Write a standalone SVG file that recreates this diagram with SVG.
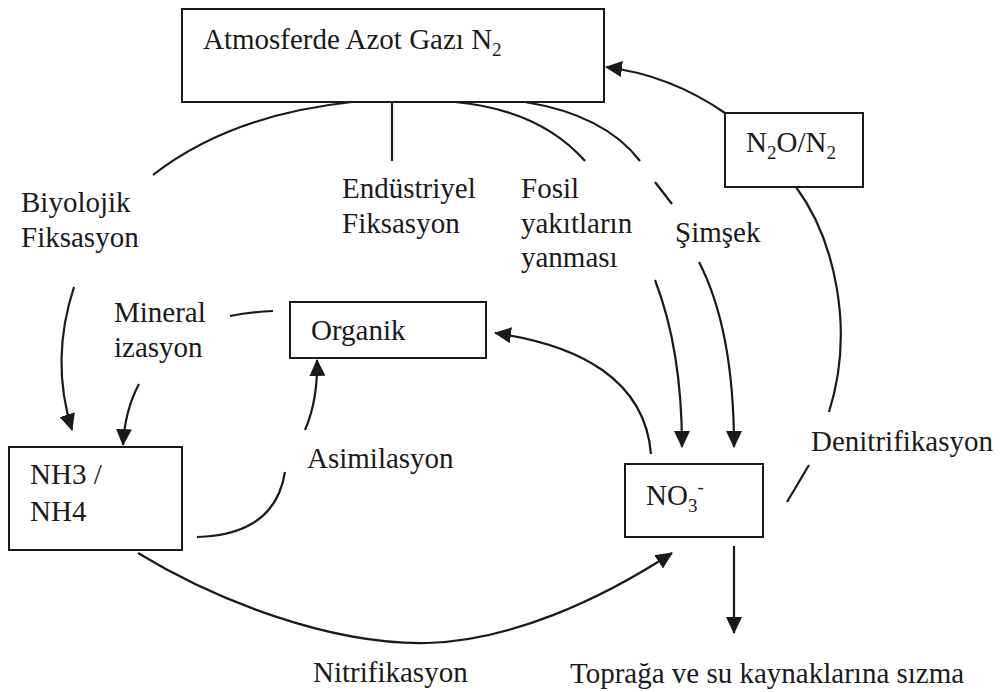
<svg xmlns="http://www.w3.org/2000/svg" width="1000" height="692" viewBox="0 0 1000 692">
<style>
.box{fill:#fff;stroke:#1a1a1a;stroke-width:2}
.t{font-family:"Liberation Serif","Times New Roman",serif;font-size:29px;fill:#1a1a1a}
.sub{font-size:19px}
.c{fill:none;stroke:#1a1a1a;stroke-width:2.2}
</style>
<defs>
<marker id="ah" viewBox="0 0 17 16" refX="16" refY="8" markerWidth="17" markerHeight="16" markerUnits="userSpaceOnUse" orient="auto">
<path d="M0,0 L17,8 L0,16 z" fill="#1a1a1a"/>
</marker>
</defs>
<rect width="1000" height="692" fill="#fff"/>
<g id="connectors">
<path class="c" d="M352,102 Q230,115 153,175"/>
<path class="c" d="M392,103 L392,161"/>
<path class="c" d="M455,102 Q540,110 585,161"/>
<path class="c" d="M525,102 Q605,115 640,161"/>
<path class="c" d="M655,182 L672,204"/>
<path class="c" d="M725,113 Q670,75 606,67" marker-end="url(#ah)"/>
<path class="c" d="M796,187 C835,240 855,330 829,412"/>
<path class="c" d="M787,502 L809,465"/>
<path class="c" d="M655,280 Q682,350 682,447" marker-end="url(#ah)"/>
<path class="c" d="M699,262 Q734,330 734,447" marker-end="url(#ah)"/>
<path class="c" d="M651,454 C645,380 580,345 495,333" marker-end="url(#ah)"/>
<path class="c" d="M734,546 L734,633" marker-end="url(#ah)"/>
<path class="c" d="M138,553 C215,600 330,645 427,643 C510,641 600,600 672,553" marker-end="url(#ah)"/>
<path class="c" d="M74,287 Q50,360 72,430" marker-end="url(#ah)"/>
<path class="c" d="M139,384 Q125,410 123,445" marker-end="url(#ah)"/>
<path class="c" d="M305,430 Q318,400 317,360" marker-end="url(#ah)"/>
<path class="c" d="M273,311 Q250,312 230,316"/>
<path class="c" d="M197,537 Q275,535 285,472"/>
</g>
<g id="atmosfer">
<rect class="box" x="182" y="9" width="422" height="93"/>
<text class="t" x="203" y="49">Atmosferde Azot Gazı N<tspan class="sub" dy="7">2</tspan></text>
</g>
<g id="n2o">
<rect class="box" x="725" y="113" width="138" height="74"/>
<text class="t" x="746" y="152">N<tspan class="sub" dy="7">2</tspan><tspan dy="-7">O/N</tspan><tspan class="sub" dy="7">2</tspan></text>
</g>
<g id="organik">
<rect class="box" x="290" y="302" width="196" height="56"/>
<text class="t" x="311" y="340">Organik</text>
</g>
<g id="nh3">
<rect class="box" x="9" y="447" width="173" height="103"/>
<text class="t" x="30" y="484">NH3 /</text>
<text class="t" x="30" y="521">NH4</text>
</g>
<g id="no3">
<rect class="box" x="625" y="464" width="138" height="73"/>
<text class="t" x="646" y="505">NO<tspan class="sub" dy="7">3</tspan><tspan class="sub" dy="-19">-</tspan></text>
</g>
<g id="labels">
<text class="t" x="21" y="212">Biyolojik</text>
<text class="t" x="21" y="247">Fiksasyon</text>
<text class="t" x="342" y="198">Endüstriyel</text>
<text class="t" x="342" y="233">Fiksasyon</text>
<text class="t" x="521" y="198">Fosil</text>
<text class="t" x="521" y="233">yakıtların</text>
<text class="t" x="521" y="267">yanması</text>
<text class="t" x="675" y="242">Şimşek</text>
<text class="t" x="114" y="322">Mineral</text>
<text class="t" x="114" y="357">izasyon</text>
<text class="t" x="307" y="468">Asimilasyon</text>
<text class="t" x="811" y="451">Denitrifikasyon</text>
<text class="t" x="313" y="682">Nitrifikasyon</text>
<text class="t" x="570" y="683">Toprağa ve su kaynaklarına sızma</text>
</g>
</svg>
